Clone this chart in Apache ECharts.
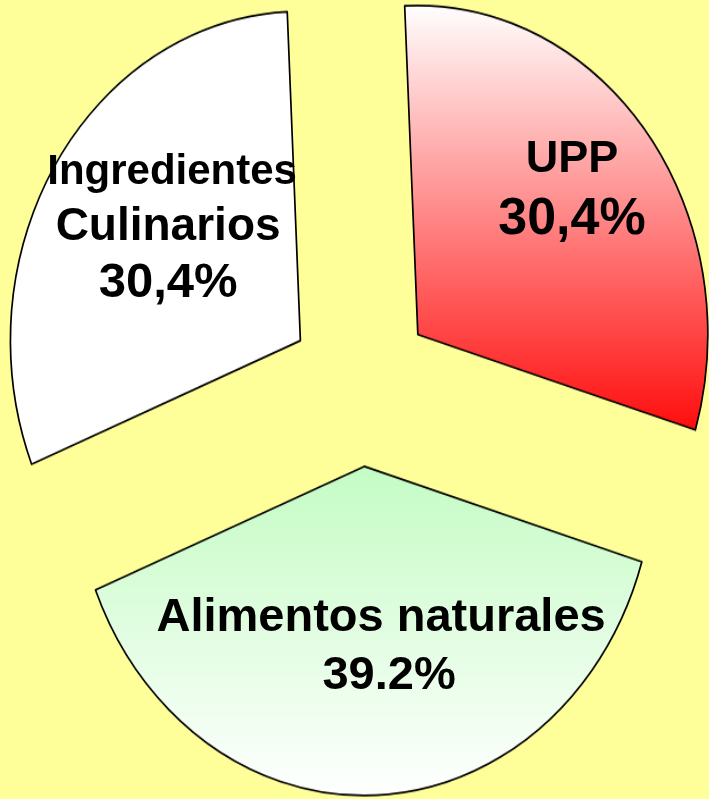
<!DOCTYPE html>
<html>
<head>
<meta charset="utf-8">
<script src="https://cdn.jsdelivr.net/npm/echarts@6/dist/echarts.min.js"></script>
<style>
  html, body { margin: 0; padding: 0; background: #ffff99; overflow: hidden; }
  /* the original pie is an ellipse (taller than wide), so the slice layer is stretched */
  #pie { position: absolute; left: 0; top: 0; width: 709px; height: 704px; transform: scaleY(1.135); transform-origin: 0 0; }
  #labels { position: absolute; left: 0; top: 0; width: 709px; height: 799px; pointer-events: none; }
</style>
</head>
<body>
<div id="pie"></div>
<div id="labels"></div>
<script>

    var categories = ['UPP', 'Alimentos naturales', 'Ingredientes\nCulinarios'];
    var values = [30.4, 39.2, 30.4];
    var valueLabels = ['30,4%', '39.2%', '30,4%'];

    var sliceColors = [
        new echarts.graphic.LinearGradient(0, 0, 0, 1, [
            { offset: 0, color: '#ffffff' },
            { offset: 1, color: '#ff0d0d' }
        ]),
        new echarts.graphic.LinearGradient(0, 0, 0, 1, [
            { offset: 0, color: '#c4fcc4' },
            { offset: 1, color: '#ffffff' }
        ]),
        '#ffffff'
    ];

    var pieData = categories.map(function (name, i) {
        return {
            name: name,
            value: values[i],
            selected: true,
            itemStyle: { color: sliceColors[i] }
        };
    });

    var pieChart = echarts.init(document.getElementById('pie'));
    pieChart.setOption({
        animation: false,
        backgroundColor: 'transparent',
        series: [
            {
                type: 'pie',
                center: [361, 339],
                radius: 290,
                startAngle: 92.6,
                selectedMode: 'multiple',
                selectedOffset: 72,
                label: { show: false },
                labelLine: { show: false },
                emphasis: { disabled: true },
                itemStyle: { borderColor: '#000', borderWidth: 1.7 },
                data: pieData
            }
        ]
    });

    // labels live on an unstretched layer so the text keeps its shape
    var lineSizes = [[45, 52], [47, 47], [42, 46, 49]];
    var lineHeights = [[60, 60], [58, 58], [52, 57, 57]];
    var linePad = [[0, 0], [0, 16], [8, 0, 0]];
    var rich = {};
    lineSizes.forEach(function (sizes, i) {
        sizes.forEach(function (s, j) {
            rich['s' + i + '_' + j] = {
                fontSize: s,
                lineHeight: lineHeights[i][j],
                fontWeight: 'bold',
                fontFamily: '"Liberation Sans", Arial, sans-serif',
                color: '#000',
                padding: [0, 0, 0, linePad[i][j]]
            };
        });
    });
    var labelNudge = [[1, -32], [8, -4], [31, -12]];

    var labelChart = echarts.init(document.getElementById('labels'));
    labelChart.setOption({
        animation: false,
        backgroundColor: 'transparent',
        series: [
            {
                type: 'pie',
                silent: true,
                center: [361, 385],
                radius: 380,
                startAngle: 92.6,
                selectedMode: 'multiple',
                selectedOffset: 73,
                itemStyle: { color: 'rgba(0,0,0,0)', borderWidth: 0 },
                labelLine: { show: false },
                emphasis: { disabled: true },
                label: {
                    show: true,
                    position: 'inside',
                    rich: rich,
                    formatter: function (p) {
                        var lines = p.name.split('\n').concat(valueLabels[p.dataIndex]);
                        return lines.map(function (t, j) {
                            return '{s' + p.dataIndex + '_' + j + '|' + t + '}';
                        }).join('\n');
                    }
                },
                labelLayout: function (p) {
                    var n = labelNudge[p.dataIndex];
                    return { dx: n[0], dy: n[1] };
                },
                data: categories.map(function (name, i) {
                    return { name: name, value: values[i], selected: true };
                })
            }
        ]
    });

</script>
</body>
</html>
